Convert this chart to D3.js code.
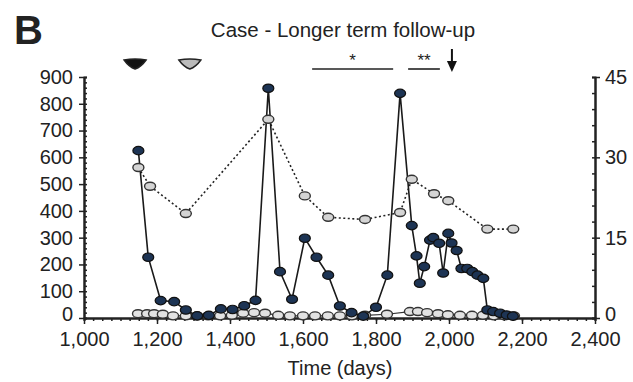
<!DOCTYPE html>
<html>
<head>
<meta charset="utf-8">
<script src="https://cdn.jsdelivr.net/npm/d3@7"></script>
<style>
  body { margin: 0; background: #fff; }
  svg { display: block; }
  text { font-family: "Liberation Sans", Arial, sans-serif; fill: #222; }
</style>
</head>
<body>
<svg id="chart" width="633" height="382"></svg>
<script>
// dark series (left axis)
const darkDays = [1149, 1176, 1210, 1247, 1279, 1310, 1342, 1375, 1407, 1439, 1470, 1505, 1537, 1570, 1605, 1637, 1669, 1701, 1733, 1765, 1800, 1831, 1866, 1898, 1911, 1920, 1932, 1948, 1957, 1973, 1984, 1998, 2007, 2021, 2034, 2050, 2064, 2078, 2094, 2105, 2121, 2140, 2158, 2175];
const darkValues = [625, 227, 65, 61, 30, 8, 10, 34, 32, 46, 66, 858, 173, 70, 298, 227, 160, 45, 20, 7, 40, 160, 839, 345, 232, 130, 192, 291, 300, 279, 168, 316, 280, 252, 185, 185, 173, 160, 148, 30, 24, 18, 11, 7];

// grey dotted series (right axis)
const greyDays = [1149, 1181, 1279, 1505, 1605, 1669, 1770, 1866, 1898, 1959, 1998, 2105, 2176];
const greyValues = [28.1, 24.6, 19.5, 37.1, 22.8, 18.8, 18.4, 19.7, 25.9, 23.2, 21.9, 16.6, 16.6];

// baseline series (right axis)
const baseDays = [1148, 1173, 1192, 1216, 1244, 1279, 1310, 1340, 1373, 1405, 1436, 1466, 1496, 1532, 1564, 1600, 1633, 1668, 1701, 1734, 1770, 1830, 1893, 1915, 1940, 1970, 1997, 2030, 2063, 2093, 2123, 2153, 2178];
const baseValues = [0.8, 0.8, 0.8, 0.7, 0.4, 0.4, 0.4, 0.4, 0.4, 0.5, 0.9, 1.0, 0.9, 0.5, 0.4, 0.4, 0.4, 0.4, 0.4, 0.4, 0.5, 0.7, 1.2, 1.2, 1.0, 0.8, 0.6, 0.5, 0.5, 0.5, 0.4, 0.4, 0.4];

const leftTicks = [0, 100, 200, 300, 400, 500, 600, 700, 800, 900];
const rightTicks = [0, 15, 30, 45];
const xTicks = [1000, 1200, 1400, 1600, 1800, 2000, 2200, 2400];

// markers above the plot
const eventDays = [1140, 1290];
const eventFills = ["#111", "#bbb"];
const arrowDay = 2008;
const sigBars = [
  { from: 1625, to: 1847, label: "*" },
  { from: 1888, to: 1975, label: "**" }
];

const titleText = "Case - Longer term follow-up";
const xLabel = "Time (days)";

const svg = d3.select("#chart");
const margin = { top: 77, right: 38, bottom: 64, left: 84 };
const width = 633, height = 382;

const x = d3.scaleLinear().domain([1000, 2400]).range([margin.left, width - margin.right]);
const yLeft = d3.scaleLinear().domain([0, 900]).range([height - margin.bottom, margin.top]);
const yRight = d3.scaleLinear().domain([0, 45]).range([height - margin.bottom, margin.top]);
const y0 = height - margin.bottom;

// panel letter + title
svg.append("text").attr("x", 14).attr("y", 44)
  .attr("font-size", 40).attr("font-weight", "bold").text("B");
svg.append("text").attr("x", 343).attr("y", 37).attr("text-anchor", "middle")
  .attr("font-size", 20.5).text(titleText);

// axes
function styleAxis(g) {
  g.select(".domain").attr("stroke", "#222").attr("stroke-width", 2);
  g.selectAll(".tick line").attr("stroke", "#222").attr("stroke-width", 1.5);
  g.selectAll(".tick text").attr("font-size", 20).attr("fill", "#222")
    .style("font-family", '"Liberation Sans", Arial, sans-serif');
}

// minor ticks first
svg.append("g").attr("transform", `translate(${margin.left},0)`)
  .call(d3.axisLeft(yLeft).tickValues(d3.range(0, 901, 20)).tickSize(-3).tickFormat(""))
  .call(styleAxis);
svg.append("g").attr("transform", `translate(${width - margin.right},0)`)
  .call(d3.axisRight(yRight).tickValues(d3.range(0, 46, 3)).tickSize(-3).tickFormat(""))
  .call(styleAxis);
svg.append("g").attr("transform", `translate(0,${y0})`)
  .call(d3.axisBottom(x).tickValues(d3.range(1000, 2401, 25)).tickSize(3).tickFormat(""))
  .call(styleAxis);

const leftAxis = svg.append("g").attr("transform", `translate(${margin.left},0)`)
  .call(d3.axisLeft(yLeft).tickValues(leftTicks).tickSize(5).tickPadding(6).tickSizeOuter(0))
  .call(styleAxis);
const rightAxis = svg.append("g").attr("transform", `translate(${width - margin.right},0)`)
  .call(d3.axisRight(yRight).tickValues(rightTicks).tickSize(5).tickPadding(5).tickSizeOuter(0))
  .call(styleAxis);
// lift the zero labels a little so they clear the x labels
leftAxis.selectAll(".tick text").filter(d => d === 0).attr("dy", "0.1em");
rightAxis.selectAll(".tick text").filter(d => d === 0).attr("dy", "0.1em");

svg.append("g").attr("transform", `translate(0,${y0})`)
  .call(d3.axisBottom(x).tickValues(xTicks).tickFormat(d3.format(",")).tickSize(6).tickPadding(8).tickSizeOuter(0))
  .call(styleAxis);

svg.append("text").attr("x", 340).attr("y", 375).attr("text-anchor", "middle")
  .attr("font-size", 20).text(xLabel);

// baseline series
const baseData = baseDays.map((d, i) => ({ d, v: baseValues[i] }));
svg.append("path").datum(baseData)
  .attr("fill", "none").attr("stroke", "#333").attr("stroke-width", 1.2)
  .attr("d", d3.line().x(p => x(p.d)).y(p => yRight(p.v)));
svg.selectAll(".base").data(baseData).enter().append("ellipse")
  .attr("cx", p => x(p.d)).attr("cy", p => yRight(p.v))
  .attr("rx", 5.5).attr("ry", 4)
  .attr("fill", "#e2e2e2").attr("stroke", "#333").attr("stroke-width", 1.4);

// grey dotted series
const greyData = greyDays.map((d, i) => ({ d, v: greyValues[i] }));
svg.append("path").datum(greyData)
  .attr("fill", "none").attr("stroke", "#222").attr("stroke-width", 1.6)
  .attr("stroke-dasharray", "2,2.5")
  .attr("d", d3.line().x(p => x(p.d)).y(p => yRight(p.v)));

// dark series
const darkData = darkDays.map((d, i) => ({ d, v: darkValues[i] }));
svg.append("path").datum(darkData)
  .attr("fill", "none").attr("stroke", "#1a1a1a").attr("stroke-width", 1.6)
  .attr("d", d3.line().x(p => x(p.d)).y(p => yLeft(p.v)));

svg.selectAll(".grey").data(greyData).enter().append("ellipse")
  .attr("cx", p => x(p.d)).attr("cy", p => yRight(p.v))
  .attr("rx", 5.5).attr("ry", 4)
  .attr("fill", "#d4d4d4").attr("stroke", "#333").attr("stroke-width", 1.4);

svg.selectAll(".dark").data(darkData).enter().append("ellipse")
  .attr("cx", p => x(p.d)).attr("cy", p => yLeft(p.v))
  .attr("rx", 5.5).attr("ry", 4.2)
  .attr("fill", "#1d3454").attr("stroke", "#111").attr("stroke-width", 1.2);

// event markers at top
svg.selectAll(".event").data(eventDays).enter().append("path")
  .attr("transform", d => `translate(${x(d)},64)`)
  .attr("d", "M-11,-4 Q0,-6 11,-4 Q6,3 0,5 Q-6,3 -11,-4 Z")
  .attr("fill", (d, i) => eventFills[i]).attr("stroke", "#222").attr("stroke-width", 1.5);

// arrow
const ax = x(arrowDay);
svg.append("line").attr("x1", ax).attr("x2", ax).attr("y1", 49).attr("y2", 64)
  .attr("stroke", "#111").attr("stroke-width", 2);
svg.append("path").attr("d", `M${ax - 5},61 L${ax + 5},61 L${ax},72 Z`).attr("fill", "#111");

// significance bars
sigBars.forEach(b => {
  svg.append("line").attr("x1", x(b.from)).attr("x2", x(b.to)).attr("y1", 69).attr("y2", 69)
    .attr("stroke", "#222").attr("stroke-width", 1.6);
  svg.append("text").attr("x", (x(b.from) + x(b.to)) / 2).attr("y", 66)
    .attr("text-anchor", "middle").attr("font-size", 17).text(b.label);
});
</script>
</body>
</html>
